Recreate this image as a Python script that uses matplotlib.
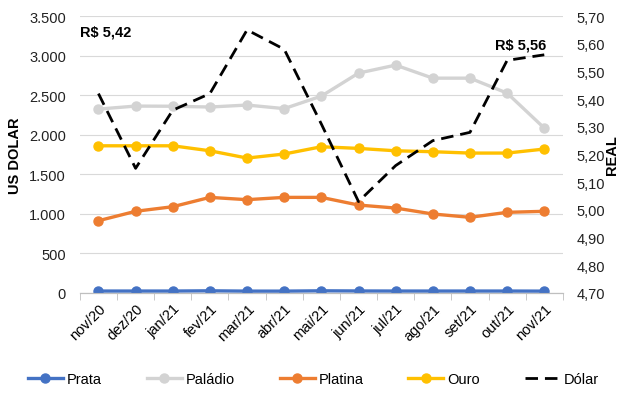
import numpy as np
import matplotlib
matplotlib.use("Agg")
import matplotlib.pyplot as plt
from matplotlib.ticker import FuncFormatter, MultipleLocator

plt.rcParams['font.family'] = ['Liberation Sans', 'DejaVu Sans']

meses = ["nov/20", "dez/20", "jan/21", "fev/21", "mar/21", "abr/21", "mai/21",
         "jun/21", "jul/21", "ago/21", "set/21", "out/21", "nov/21"]
prata = [24, 24, 24, 27, 23, 23, 27, 25, 24, 24, 24, 24, 23]
paladio = [2324, 2362, 2360, 2350, 2375, 2330, 2488, 2779, 2880, 2715, 2715, 2526, 2084]
platina = [913, 1032, 1090, 1208, 1179, 1208, 1208, 1111, 1073, 998, 956, 1019, 1032]
ouro = [1860, 1860, 1860, 1797, 1705, 1756, 1848, 1827, 1797, 1785, 1768, 1768, 1819]
dolar = [5.42, 5.15, 5.36, 5.42, 5.65, 5.58, 5.31, 5.03, 5.16, 5.25, 5.28, 5.54, 5.56]

fig = plt.figure(figsize=(6.24, 4.06), dpi=100)
ax = fig.add_axes([0.128, 0.276, 0.774, 0.682])
ax2 = ax.twinx()

x = np.arange(len(meses))
series = [("Prata", prata, "#4472C4"),
          ("Paládio", paladio, "#D3D3D3"),
          ("Platina", platina, "#ED7D31"),
          ("Ouro", ouro, "#FFC000")]
handles = []
for nome, vals, cor in series:
    h, = ax.plot(x, vals, color=cor, lw=2.4, marker="o", ms=6.5, label=nome, zorder=3)
    handles.append(h)

hd, = ax2.plot(x, dolar, color="black", lw=2, dashes=(4.5, 2.5), label="Dólar")
handles.append(hd)

ax.set_xlim(-0.5, len(meses) - 0.5)
ax.set_ylim(0, 3500)
ax.yaxis.set_major_locator(MultipleLocator(500))
ax.yaxis.set_major_formatter(FuncFormatter(lambda v, p: f"{int(v):,}".replace(",", ".")))
ax.grid(axis="y", color="#D9D9D9", lw=0.8)
ax.set_axisbelow(True)

ax2.set_ylim(4.70, 5.70)
ax2.set_yticks(np.arange(4.70, 5.71, 0.10))
ax2.yaxis.set_major_formatter(FuncFormatter(lambda v, p: f"{v:.2f}".replace(".", ",")))

for a in (ax, ax2):
    for s in ("top", "left", "right"):
        a.spines[s].set_visible(False)
    a.spines["bottom"].set_color("#BFBFBF")
    a.tick_params(axis="y", length=0, labelsize=10.5, colors="#222222", pad=10)

ax.set_xticks(x)
ax.set_xticklabels(meses, rotation=45, ha="right", rotation_mode="anchor", fontsize=10.5)
ax.tick_params(axis="x", length=0, pad=6)
ax.set_xticks(np.arange(-0.5, len(meses), 1), minor=True)
ax.tick_params(axis="x", which="minor", length=5, color="#BFBFBF")

ax.set_ylabel("US DOLAR", fontsize=10.5, fontweight="bold")
ax.yaxis.set_label_coords(-0.12, 0.5)
ax2.set_ylabel("REAL", fontsize=10.5, fontweight="bold")
ax2.yaxis.set_label_coords(1.087, 0.5)

ax.text(-0.5, 3260, "R$ 5,42", fontsize=10.5, fontweight="bold")
ax.text(10.67, 3090, "R$ 5,56", fontsize=10.5, fontweight="bold")

fig.legend(handles=handles, loc="center", bbox_to_anchor=(0.502, 0.065), ncol=5,
           frameon=False, fontsize=10.5, handlelength=2.4, handletextpad=0.25,
           columnspacing=3.1)

fig.savefig("out.png", dpi=100)
